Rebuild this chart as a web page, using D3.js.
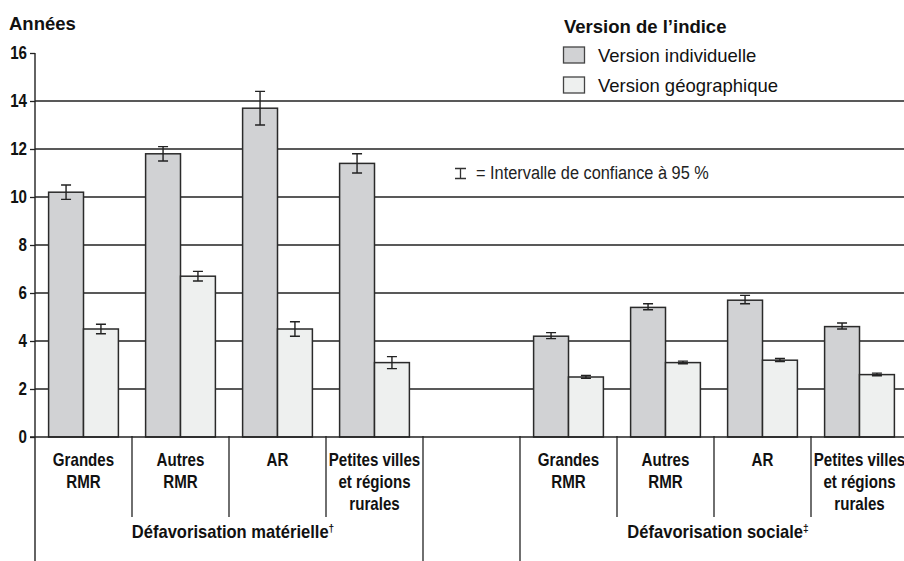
<!DOCTYPE html>
<html>
<head>
<meta charset="utf-8">
<script src="https://cdn.jsdelivr.net/npm/d3@7"></script>
<style>
    body { margin: 0; background: #fff; }
    svg { display: block; font-family: "Liberation Sans", Arial, Helvetica, sans-serif; }
    .axis path, .axis line { stroke: #222; }
</style>
</head>
<body>
<svg id="chart" width="904" height="561"></svg>
<script>
// categories, in the order they appear in each panel
var categories = ["Grandes RMR", "Autres RMR", "AR", "Petites villes et régions rurales"];
var categoryLines = [["Grandes", "RMR"], ["Autres", "RMR"], ["AR"], ["Petites villes", "et régions", "rurales"]];
var panels = ["Défavorisation matérielle", "Défavorisation sociale"];
var panelMarks = ["\u2020", "\u2021"];
var seriesNames = ["Version individuelle", "Version géographique"];

// values per panel (matérielle, sociale) in years
var individuelle = [[10.2, 11.8, 13.7, 11.4], [4.2, 5.4, 5.7, 4.6]];
var individuelleLow = [[9.9, 11.5, 13.0, 11.0], [4.1, 5.3, 5.55, 4.5]];
var individuelleHigh = [[10.5, 12.1, 14.4, 11.8], [4.35, 5.55, 5.9, 4.75]];
var geographique = [[4.5, 6.7, 4.5, 3.1], [2.5, 3.1, 3.2, 2.6]];
var geographiqueLow = [[4.3, 6.5, 4.2, 2.85], [2.45, 3.05, 3.14, 2.55]];
var geographiqueHigh = [[4.7, 6.9, 4.8, 3.35], [2.56, 3.16, 3.27, 2.66]];

var yTicks = [0, 2, 4, 6, 8, 10, 12, 14, 16];

(function () {
    "use strict";

    var svg = d3.select("#chart"),
        colors = ["#d1d2d4", "#eef0ef"],
        slots = [], rows = [], barData = [], x, xs, y, axisG, labelTop = 436;

    // condensed text: real text, squeezed horizontally
    function ctext(g, px, py, k) {
        return g.append("text")
            .attr("transform", "translate(" + px + "," + py + ") scale(" + k + ",1)");
    }

    // 9 equal slots: 4 categories, one empty gap, 4 categories
    panels.forEach(function (p, pi) {
        categories.forEach(function (c, ci) {
            slots.push(pi + "|" + ci);
            rows.push({slot: pi + "|" + ci, pi: pi, ci: ci});
        });
        if(pi === 0) { slots.push("gap"); }
    });

    x = d3.scaleBand().domain(slots).range([35, 908]);
    xs = d3.scaleBand().domain(seriesNames).range([0, x.bandwidth()]).paddingOuter(0.39);
    y = d3.scaleLinear().domain([0, 16]).range([437, 53]);

    // horizontal gridlines
    svg.append("g").selectAll("line")
        .data(yTicks.filter(function (t) { return t > 0 && t < 16; }))
        .join("line")
        .attr("x1", 35).attr("x2", 904)
        .attr("y1", function (d) { return y(d); })
        .attr("y2", function (d) { return y(d); })
        .attr("stroke", "#222").attr("stroke-width", 1.3);

    // bars
    rows.forEach(function (r) {
        barData.push({r: r, s: 0, v: individuelle[r.pi][r.ci],
                      lo: individuelleLow[r.pi][r.ci], hi: individuelleHigh[r.pi][r.ci]});
        barData.push({r: r, s: 1, v: geographique[r.pi][r.ci],
                      lo: geographiqueLow[r.pi][r.ci], hi: geographiqueHigh[r.pi][r.ci]});
    });

    function bx(d) { return x(d.r.slot) + xs(seriesNames[d.s]); }

    svg.append("g").selectAll("rect")
        .data(barData)
        .join("rect")
        .attr("x", bx)
        .attr("y", function (d) { return y(d.v); })
        .attr("width", xs.bandwidth())
        .attr("height", function (d) { return y(0) - y(d.v); })
        .attr("fill", function (d) { return colors[d.s]; })
        .attr("stroke", "#2a2a2a").attr("stroke-width", 1.5);

    // error bars
    svg.append("g").attr("stroke", "#222").attr("stroke-width", 1.4).attr("fill", "none")
        .selectAll("path")
        .data(barData)
        .join("path")
        .attr("d", function (d) {
            var cx = bx(d) + xs.bandwidth() / 2, w = 5,
                a = y(d.hi), b = y(d.lo);
            return "M" + (cx - w) + "," + a + "H" + (cx + w) +
                "M" + cx + "," + a + "V" + b +
                "M" + (cx - w) + "," + b + "H" + (cx + w);
        });

    // y axis
    axisG = svg.append("g")
        .attr("class", "axis")
        .attr("transform", "translate(35,0)")
        .call(d3.axisLeft(y).tickValues(yTicks).tickSize(5));
    axisG.select(".domain").remove();
    axisG.selectAll("line").attr("stroke-width", 1.3);
    axisG.selectAll("text")
        .attr("x", 0)
        .attr("transform", "translate(-8,0) scale(0.82,1)")
        .attr("fill", "#111")
        .style("font-size", "18.5px").style("font-weight", "bold");

    // baseline and left axis line (down through the label area)
    svg.append("line").attr("x1", 30).attr("x2", 904)
        .attr("y1", y(0)).attr("y2", y(0))
        .attr("stroke", "#222").attr("stroke-width", 1.4);
    svg.append("line").attr("x1", 35).attr("x2", 35)
        .attr("y1", y(16)).attr("y2", 561)
        .attr("stroke", "#222").attr("stroke-width", 1.4);

    // category dividers
    slots.forEach(function (s, i) {
        if(i === 0) { return; }
        var long = (s === "gap" || slots[i - 1] === "gap");
        svg.append("line")
            .attr("x1", x(s)).attr("x2", x(s))
            .attr("y1", labelTop).attr("y2", long ? 561 : 517)
            .attr("stroke", "#222").attr("stroke-width", 1.3);
    });

    // category labels
    rows.forEach(function (r) {
        var t = ctext(svg, x(r.slot) + x.bandwidth() / 2, 466, 0.84)
            .attr("text-anchor", "middle")
            .style("font-size", "18px").style("font-weight", "bold")
            .attr("fill", "#111");
        categoryLines[r.ci].forEach(function (ln, li) {
            t.append("tspan").attr("x", 0)
                .attr("dy", li === 0 ? 0 : 22).text(ln);
        });
    });

    // panel labels
    panels.forEach(function (p, pi) {
        var first = x(pi + "|0"), last = x(pi + "|3") + x.bandwidth(),
            t = ctext(svg, (first + last) / 2 + 4, 538, 0.92)
                .attr("text-anchor", "middle")
                .style("font-size", "18px").style("font-weight", "bold")
                .attr("fill", "#111");
        t.append("tspan").text(p);
        t.append("tspan").attr("dy", -6).style("font-size", "11px").text(panelMarks[pi]);
    });

    // y title
    svg.append("text").attr("x", 9).attr("y", 30)
        .style("font-size", "18.5px").style("font-weight", "bold")
        .attr("fill", "#111").text("Années");

    // legend
    var lg = svg.append("g").attr("transform", "translate(563,0)");
    lg.append("text").attr("x", 1).attr("y", 33)
        .style("font-size", "18.5px").style("font-weight", "bold")
        .attr("fill", "#111").text("Version de l\u2019indice");
    seriesNames.forEach(function (s, i) {
        lg.append("rect").attr("x", 0.5).attr("y", 47 + i * 30)
            .attr("width", 21).attr("height", 16)
            .attr("fill", colors[i]).attr("stroke", "#444").attr("stroke-width", 1.3);
        lg.append("text").attr("x", 35).attr("y", 62 + i * 30)
            .style("font-size", "18.5px").attr("fill", "#111").text(s);
    });

    // confidence interval note
    svg.append("path")
        .attr("d", "M455,168.5H466M460.5,168.5V178.5M455,178.5H466")
        .attr("stroke", "#333").attr("stroke-width", 1.3).attr("fill", "none");
    ctext(svg, 476, 179, 0.86)
        .style("font-size", "19px").attr("fill", "#222")
        .text("= Intervalle de confiance à 95 %");
}());
</script>
</body>
</html>
